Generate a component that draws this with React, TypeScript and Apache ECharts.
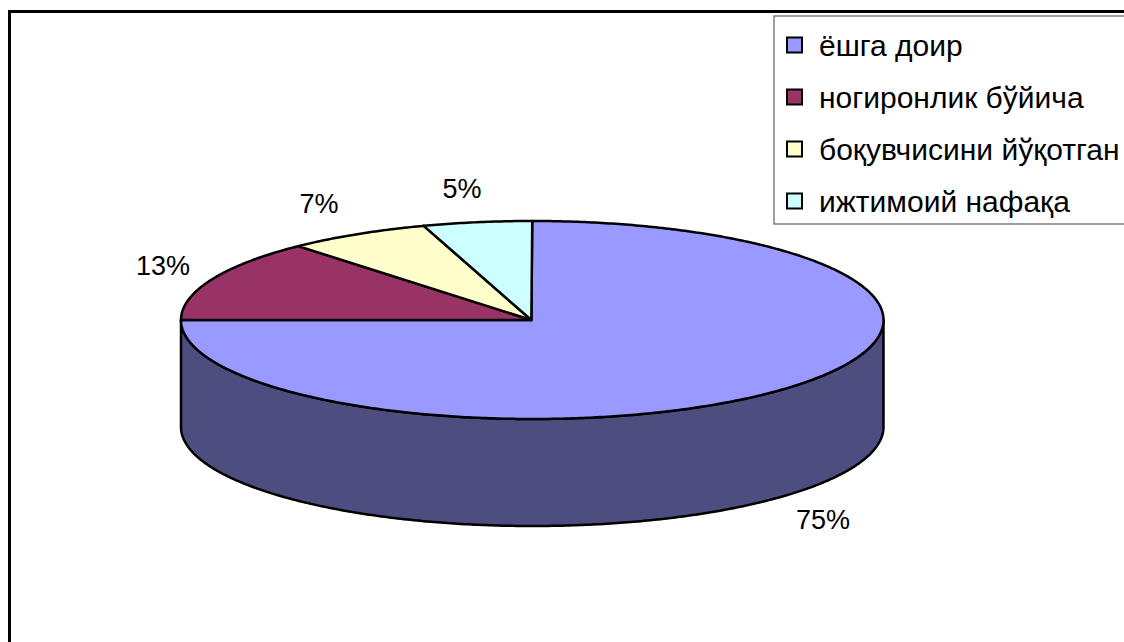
import React, { useEffect, useRef } from "react";
import * as echarts from "echarts";

const categories = ["ёшга доир", "ногиронлик бўйича", "боқувчисини йўқотган", "ижтимоий нафақа"];
const values = [75, 13.4, 6.6, 5];
const topColors = ["#9999FF", "#993366", "#FFFFCC", "#CCFFFF"];
const sideColors = ["#4D4D80", "#4D1A33", "#808066", "#668080"];
const labelCenters = [[823, 520], [163, 266], [319, 204], [462, 189]];

const FONT = "'Liberation Sans', Arial, sans-serif";
const CX = 532.25, CY = 320, RX = 351.25, RY = 99, DEPTH = 107;
const TOTAL = values.reduce((a, b) => a + b, 0);

const rim = (t: number, dy = 0) => [CX + RX * Math.sin(t), CY - RY * Math.cos(t) + dy];

function arcPoints(a0: number, a1: number, dy = 0) {
  const n = Math.max(2, Math.ceil((a1 - a0) / 0.01));
  const pts: number[][] = [];
  for (let i = 0; i <= n; i++) pts.push(rim(a0 + ((a1 - a0) * i) / n, dy));
  return pts;
}

const makeRenderItem = (idx: number) => () => {
  const before = values.slice(0, idx).reduce((a, b) => a + b, 0);
  const a0 = (before / TOTAL) * Math.PI * 2;
  const a1 = ((before + values[idx]) / TOTAL) * Math.PI * 2;
  const children: any[] = [];
  const sideStart = Math.max(a0, Math.PI / 2);
  const sideEnd = Math.min(a1, (Math.PI * 3) / 2);
  if (sideEnd > sideStart) {
    const upper = arcPoints(sideStart, sideEnd);
    const lower = arcPoints(sideStart, sideEnd, DEPTH).reverse();
    children.push({
      type: "polygon",
      shape: { points: [...upper, ...lower] },
      style: { fill: sideColors[idx], stroke: "#000", lineWidth: 2.5, lineJoin: "round" },
    });
  }
  children.push({
    type: "polygon",
    shape: { points: [[CX - 0.9, CY], ...arcPoints(a0, a1)] },
    style: { fill: topColors[idx], stroke: "#000", lineWidth: 2.5, lineJoin: "round" },
  });
  children.push({
    type: "text",
    style: {
      x: labelCenters[idx][0],
      y: labelCenters[idx][1],
      text: Math.round(values[idx]) + "%",
      align: "center",
      verticalAlign: "middle",
      fill: "#000",
      font: `27px ${FONT}`,
    },
  });
  return { type: "group", children };
};

export default function App() {
  const ref = useRef<HTMLDivElement>(null);
  useEffect(() => {
    const chart = echarts.init(ref.current!, null, { renderer: "svg" });
    chart.setOption({
      animation: false,
      backgroundColor: "#fff",
      legend: {
        orient: "vertical",
        left: 774,
        top: 16,
        padding: [14, 30, 8, 12],
        icon: "rect",
        itemWidth: 15,
        itemHeight: 15,
        itemGap: 22,
        backgroundColor: "#fff",
        borderColor: "#7f7f7f",
        borderWidth: 1.5,
        borderRadius: 0,
        itemStyle: { borderColor: "#000", borderWidth: 2 },
        selectedMode: false,
        textStyle: { fontFamily: FONT, fontSize: 30, color: "#000", padding: [0, 0, 0, 12], lineHeight: 30 },
        data: categories,
      },
      graphic: [
        {
          type: "polyline",
          silent: true,
          z: -1,
          shape: { points: [[9.5, 642], [9.5, 11.5], [1124, 11.5]] },
          style: { stroke: "#000", fill: "none", lineWidth: 3 },
        },
      ],
      series: categories.map((name, i) => ({
        type: "custom",
        name,
        coordinateSystem: "none",
        silent: true,
        itemStyle: { color: topColors[i] },
        data: [values[i]],
        renderItem: makeRenderItem(i),
      })),
    });
    return () => chart.dispose();
  }, []);
  return <div ref={ref} style={{ position: "absolute", left: 0, top: 0, width: 1124, height: 642 }} />;
}
